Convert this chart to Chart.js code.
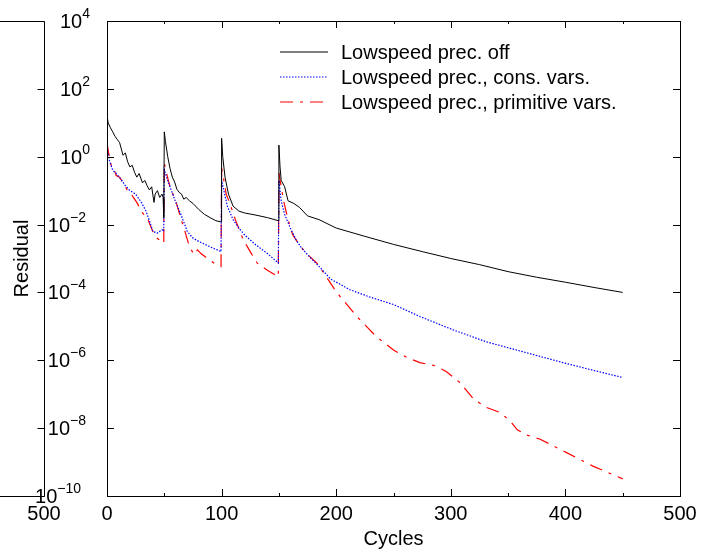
<!DOCTYPE html>
<html>
<head>
<meta charset="utf-8">
<script src="https://cdn.jsdelivr.net/npm/chart.js@4.4.0/dist/chart.umd.min.js"></script>
<style>
  body { margin: 0; background: #fff; }
  canvas { display: block; }
</style>
</head>
<body>
<canvas id="residChart" width="706" height="556"></canvas>
<script>
// Residual history (cycles, residual)
const offCycles = [0, 1, 3, 5, 7, 9, 11, 14, 16, 18, 20, 22, 24, 26, 28, 31, 33, 35, 37, 39, 41, 42, 44, 46, 48, 49, 49.5,
  50, 51, 53, 55, 57, 59, 61, 63, 65, 67, 69, 72, 75, 80, 85, 90, 95, 99.5,
  100, 101, 103, 106, 110, 115, 120, 130, 140, 149.5,
  150, 151, 152, 155, 158, 163, 168, 175, 185, 200, 225, 250, 275, 300, 325, 350, 375, 400, 425, 450];
const offResid = [17, 10, 7.1, 5.4, 4.0, 3.2, 2.6, 1.1, 1.3, 0.71, 0.5, 0.56, 0.35, 0.25, 0.32, 0.17, 0.2, 0.14, 0.105, 0.13, 0.045, 0.079, 0.1, 0.063, 0.079, 0.063, 0.016,
  5.4, 2.8, 1.0, 0.45, 0.25, 0.18, 0.11, 0.089, 0.079, 0.056, 0.063, 0.05, 0.042, 0.028, 0.02, 0.016, 0.013, 0.012,
  3.5, 1.0, 0.25, 0.079, 0.035, 0.025, 0.022, 0.019, 0.016, 0.013,
  2.2, 0.5, 0.2, 0.13, 0.05, 0.042, 0.032, 0.018, 0.014, 0.0079, 0.0045, 0.0026, 0.0016, 0.001, 0.00066, 0.00041, 0.00028, 0.0002, 0.00014, 0.0001];

const consCycles = [0, 2, 5, 8, 12, 16, 20, 25, 30, 34, 37, 40, 44, 48, 49.5,
  50, 52, 55, 60, 65, 70, 75, 80, 90, 99.5,
  100, 102, 105, 110, 115, 120, 130, 140, 149.5,
  150, 152, 155, 160, 165, 170, 175, 186, 195, 212, 229, 250, 273, 302, 331, 360, 398, 425, 450];
const consResid = [1.8, 0.79, 0.4, 0.32, 0.22, 0.14, 0.1, 0.079, 0.045, 0.025, 0.013, 0.0063, 0.0056, 0.0071, 0.0063,
  0.41, 0.25, 0.13, 0.045, 0.018, 0.0063, 0.004, 0.0032, 0.0022, 0.0016,
  0.2, 0.1, 0.035, 0.014, 0.0079, 0.005, 0.0025, 0.0014, 0.00074,
  0.2, 0.05, 0.02, 0.0079, 0.0035, 0.002, 0.0013, 5.4e-4, 2.5e-4, 1.2e-4, 7.4e-5, 4.4e-5, 1.95e-5, 7.9e-6, 3.5e-6, 1.9e-6, 8.5e-7, 5.0e-7, 3.1e-7];

const primCycles = [0, 2, 4, 6, 8, 11, 14, 18, 22, 26, 31, 35, 40, 43, 46, 49.5,
  50, 52, 55, 60, 64, 68, 72, 76, 79, 82, 86, 90, 94, 99.5,
  100, 102, 104, 107, 112, 119, 125, 131, 140, 149.5,
  150, 152, 154, 158, 162, 168, 174, 183, 189, 200, 218, 235, 250, 262, 273, 285, 296, 308, 320, 331, 343, 352, 358, 366, 378, 401, 424, 450];
const primResid = [2.5, 1.0, 0.5, 0.45, 0.28, 0.25, 0.17, 0.1, 0.071, 0.045, 0.022, 0.016, 0.0063, 0.0041, 0.0035, 0.0028,
  0.65, 0.32, 0.13, 0.05, 0.017, 0.0063, 0.0022, 0.0013, 0.0018, 0.0014, 0.0011, 0.00089, 0.00071, 0.00058,
  0.47, 0.2, 0.079, 0.044, 0.014, 0.0035, 0.0016, 0.00074, 0.00045, 0.00029,
  0.33, 0.13, 0.052, 0.014, 0.005, 0.0025, 0.0014, 7.4e-4, 3.8e-4, 1.05e-4, 1.95e-5, 5.0e-6, 2.0e-6, 1.2e-6, 8.5e-7, 7.1e-7, 4.7e-7, 2.2e-7, 7.1e-8, 4.1e-8, 2.9e-8, 1.6e-8, 8.9e-9, 6.3e-9, 4.7e-9, 1.9e-9, 7.6e-10, 3.2e-10];

const seriesLabels = ['Lowspeed prec. off', 'Lowspeed prec., cons. vars.', 'Lowspeed prec., primitive vars.'];
const yTickExps = [-10, -8, -6, -4, -2, 0, 2, 4];
const xMinorTicks = [0, 50, 100, 150, 200, 250, 300, 350, 400, 450, 500];

const FONT = '"Liberation Sans", Arial, Helvetica, sans-serif';

function toPoints(xs, ys) {
  return xs.map((x, i) => ({ x: x, y: ys[i] }));
}

// frame, inward ticks, superscript labels, legend and the cut-off left panel
const decorations = {
  id: 'decorations',
  afterDraw(chart) {
    const ctx = chart.ctx;
    const area = chart.chartArea;
    const xs = chart.scales.x;
    const ys = chart.scales.y;
    ctx.save();
    ctx.strokeStyle = '#000';
    ctx.lineWidth = 1;
    ctx.setLineDash([]);

    // plot frame
    ctx.strokeRect(Math.round(area.left) + 0.5, Math.round(area.top) + 0.5,
      Math.round(area.right - area.left), Math.round(area.bottom - area.top));

    // x ticks top and bottom
    ctx.beginPath();
    xMinorTicks.forEach(v => {
      const px = Math.round(xs.getPixelForValue(v)) + 0.5;
      const len = v % 100 === 0 ? 7 : 3;
      ctx.moveTo(px, area.bottom); ctx.lineTo(px, area.bottom - len);
      ctx.moveTo(px, area.top); ctx.lineTo(px, area.top + len);
    });
    // y ticks left, right, and on the neighbouring panel
    yTickExps.forEach(e => {
      const py = Math.round(ys.getPixelForValue(Math.pow(10, e))) + 0.5;
      ctx.moveTo(area.left, py); ctx.lineTo(area.left + 7, py);
      ctx.moveTo(area.right, py); ctx.lineTo(area.right - 7, py);
      ctx.moveTo(44.5, py); ctx.lineTo(37.5, py);
    });
    // cut-off left panel frame
    ctx.moveTo(44.5, Math.round(area.top) + 0.5); ctx.lineTo(44.5, Math.round(area.bottom) + 0.5);
    ctx.moveTo(0, Math.round(area.top) + 0.5); ctx.lineTo(44.5, Math.round(area.top) + 0.5);
    ctx.moveTo(0, Math.round(area.bottom) + 0.5); ctx.lineTo(44.5, Math.round(area.bottom) + 0.5);
    ctx.stroke();

    // y tick labels 10^n
    ctx.fillStyle = '#000';
    ctx.textBaseline = 'alphabetic';
    ctx.textAlign = 'left';
    yTickExps.forEach(e => {
      const py = ys.getPixelForValue(Math.pow(10, e));
      const expText = e < 0 ? '\u2212' + Math.abs(e) : String(e);
      ctx.font = '14px ' + FONT;
      const wExp = ctx.measureText(expText).width;
      ctx.font = '20px ' + FONT;
      const wBase = ctx.measureText('10').width;
      const right = e >= 0 ? 90 : (e > -10 ? 86 : 81);
      ctx.fillText('10', right - wExp - wBase, py + 7);
      ctx.font = '14px ' + FONT;
      ctx.fillText(expText, right - wExp, py - 3);
    });

    // left panel x label
    ctx.font = '20px ' + FONT;
    ctx.textAlign = 'center';
    ctx.fillText('500', 44, 520);

    // legend
    ctx.textAlign = 'left';
    chart.data.datasets.forEach((ds, i) => {
      const ly = 52 + i * 25;
      ctx.strokeStyle = ds.borderColor;
      ctx.lineWidth = ds.borderWidth;
      ctx.setLineDash(ds.borderDash || []);
      ctx.beginPath();
      ctx.moveTo(280, ly);
      ctx.lineTo(328, ly);
      ctx.stroke();
      ctx.setLineDash([]);
      ctx.fillStyle = '#000';
      ctx.font = '20px ' + FONT;
      ctx.fillText(ds.label, 341, ly + 7);
    });
    ctx.restore();
  }
};

const ctx = document.getElementById('residChart').getContext('2d');
const residChart = new Chart(ctx, {
  type: 'line',
  data: {
    datasets: [
      {
        label: seriesLabels[0],
        data: toPoints(offCycles, offResid),
        borderColor: '#000000',
        borderWidth: 1,
      },
      {
        label: seriesLabels[1],
        data: toPoints(consCycles, consResid),
        borderColor: '#0000ff',
        borderWidth: 1.2,
        borderDash: [1.5, 1.5],
      },
      {
        label: seriesLabels[2],
        data: toPoints(primCycles, primResid),
        borderColor: '#ff0000',
        borderWidth: 1.2,
        borderDash: [13, 7, 3, 7],
      },
    ],
  },
  options: {
    responsive: false,
    animation: false,
    events: [],
    layout: { padding: { top: 21, right: 26, left: 0, bottom: 0 } },
    elements: {
      point: { radius: 0 },
      line: { tension: 0, fill: false },
    },
    plugins: {
      legend: { display: false },
      tooltip: { enabled: false },
    },
    scales: {
      x: {
        type: 'linear',
        min: 0,
        max: 500,
        border: { display: false },
        grid: { display: false, drawTicks: false },
        ticks: {
          stepSize: 100,
          color: '#000',
          padding: 6,
          maxRotation: 0,
          font: { family: FONT, size: 20 },
        },
        title: {
          display: true,
          text: 'Cycles',
          color: '#000',
          font: { family: FONT, size: 20 },
          padding: { top: 0, bottom: 5 },
        },
        afterFit: (scale) => { scale.height = 60; },
      },
      y: {
        type: 'logarithmic',
        min: 1e-10,
        max: 1e4,
        border: { display: false },
        grid: { display: false, drawTicks: false },
        ticks: { display: false },
        afterBuildTicks: (scale) => {
          scale.ticks = yTickExps.map(e => ({ value: Math.pow(10, e) }));
        },
        title: {
          display: true,
          text: 'Residual',
          color: '#000',
          font: { family: FONT, size: 20 },
          padding: { top: 10, bottom: 0 },
        },
        afterFit: (scale) => { scale.width = 107; },
      },
    },
  },
  plugins: [decorations],
});
</script>
</body>
</html>
